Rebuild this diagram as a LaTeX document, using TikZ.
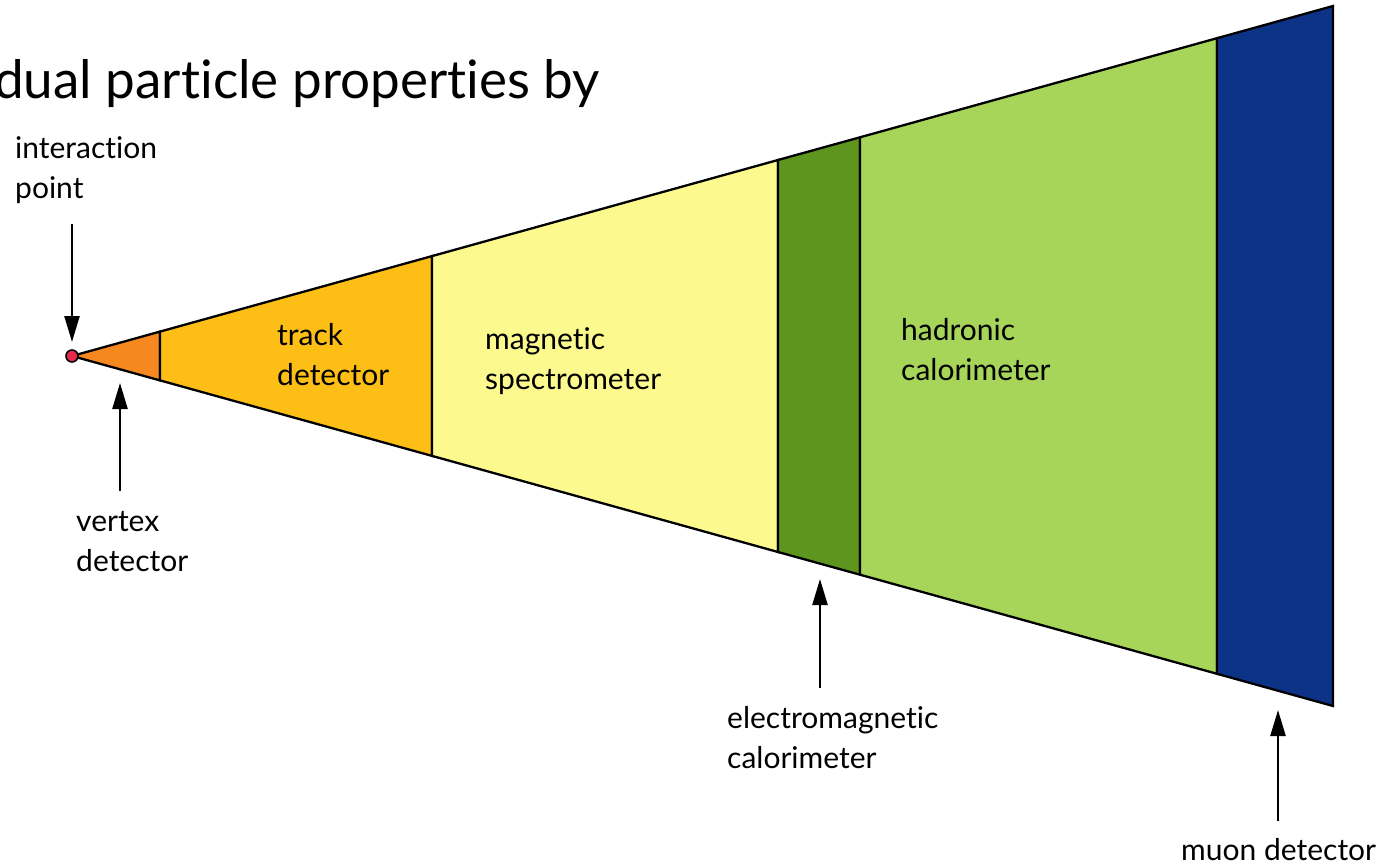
\documentclass[tikz,border=0pt]{standalone}
\usepackage{fontspec}
\setmainfont{Lato}[Ligatures=NoCommon]
\usetikzlibrary{arrows.meta}
\definecolor{vtxc}{HTML}{F5891F}
\definecolor{trkc}{HTML}{FDBF16}
\definecolor{magc}{HTML}{FCF98E}
\definecolor{emc}{HTML}{5E951F}
\definecolor{hadc}{HTML}{A6D55A}
\definecolor{muc}{HTML}{0D3387}
\definecolor{ipc}{HTML}{E8294A}
\begin{document}
\begin{tikzpicture}[x=1pt,y=-1pt,
  seg/.style={draw=black,line width=2.3pt,line join=miter},
  lbl/.style={font=\fontsize{30}{40}\selectfont,align=left,anchor=west,inner sep=0pt},
  ptr/.style={line width=2.4pt,-{Triangle[length=26pt,width=15pt]}}]
\useasboundingbox (0,0) rectangle (1387,864);
% top y(x)=356-0.27756(x-72), bottom y(x)=356+0.27756(x-72)
\coordinate (A) at (72,356);
\filldraw[seg,fill=vtxc] (A) -- (160,331.6) -- (160,380.4) -- cycle;
\filldraw[seg,fill=trkc] (160,331.6) -- (432,256.1) -- (432,455.9) -- (160,380.4) -- cycle;
\filldraw[seg,fill=magc] (432,256.1) -- (778,160.0) -- (778,552.0) -- (432,455.9) -- cycle;
\filldraw[seg,fill=emc] (778,160.0) -- (860,137.3) -- (860,574.7) -- (778,552.0) -- cycle;
\filldraw[seg,fill=hadc] (860,137.3) -- (1217,38.2) -- (1217,673.8) -- (860,574.7) -- cycle;
\filldraw[seg,fill=muc] (1217,38.2) -- (1333,6) -- (1333,706) -- (1217,673.8) -- cycle;
\filldraw[draw=black,line width=1.6pt,fill=ipc] (A) circle (6pt);
% title
\node[font=\fontsize{53}{60}\selectfont,anchor=base east,inner sep=0pt] (title) at (600,99) {dual particle properties by};
% labels
\node[lbl] (ip) at (15,170) {interaction\\point};
\node[lbl] (vd) at (76,542) {vertex\\detector};
\node[lbl] (td) at (277,355) {track\\detector};
\node[lbl] (ms) at (485,361) {magnetic\\spectrometer};
\node[lbl] (hc) at (901,350) {hadronic\\calorimeter};
\node[lbl] (ec) at (727,738) {electromagnetic\\calorimeter};
\node[font=\fontsize{30}{40}\selectfont,anchor=base west,inner sep=0pt] (md) at (1181,860) {muon detector};
% arrows
\coordinate (ipS) at (72,224);
\coordinate (ipE) at (72,342);
\coordinate (vdS) at (120,491);
\coordinate (vdE) at (120,383);
\coordinate (ecS) at (820,688);
\coordinate (ecE) at (820,579);
\coordinate (mdS) at (1278,821);
\coordinate (mdE) at (1278,710);
\draw[ptr] (ipS) -- (ipE);
\draw[ptr] (vdS) -- (vdE);
\draw[ptr] (ecS) -- (ecE);
\draw[ptr] (mdS) -- (mdE);
\end{tikzpicture}
\end{document}
